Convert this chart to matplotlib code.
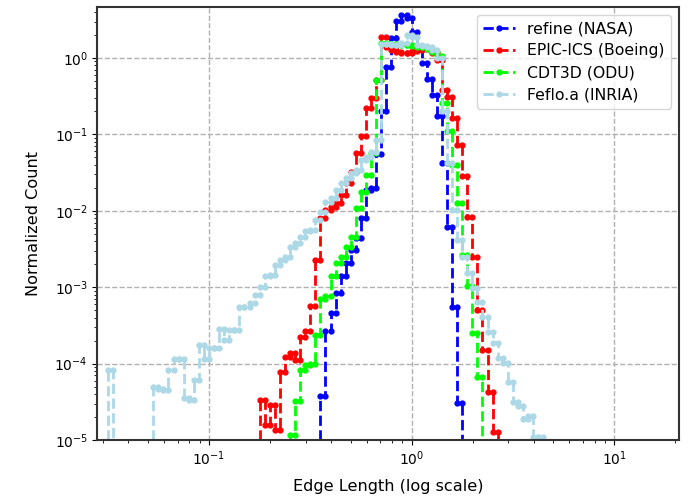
import matplotlib
matplotlib.use("Agg")
import matplotlib.pyplot as plt
import numpy as np

# histogram bins are 1/40 of a decade wide; bin k spans 10**(k/40) .. 10**((k+1)/40)
BINS_PER_DECADE = 40

# log10 of the normalized count per bin, None = empty bin
refine_start = -18
refine_log = [-4.43, -3.58, -3.34, -3.07, -2.86, -2.68, -2.51, -2.36, -2.09, -1.73,
              -1.70, -1.26, -0.70, -0.12, 0.26, 0.49, 0.56, 0.52, 0.34, 0.15,
              -0.06, -0.27, -0.48, -0.76, -1.38, -2.21, -3.26, -4.52]

epic_start = -30
epic_log = [-4.48, -4.81, -4.54, -4.87, -4.11, -3.92, -3.86, -3.95, -3.65, -3.58,
            -3.25, -2.64, -2.09, -1.99, -1.95, -1.90, -1.79, -1.64, -1.49, -1.25,
            -1.02, -0.66, -0.53, -0.29, 0.27, 0.15, 0.10, 0.08, 0.07, 0.06,
            0.09, 0.10, 0.14, 0.12, 0.06, -0.03, -0.42, -0.51, -0.79, -1.14,
            -1.55, -2.08, -2.60, -3.30, -3.82, -4.37, -4.90]

cdt3d_start = -24
cdt3d_log = [-4.93, -4.49, -4.08, -4.02, -4.00, -3.63, -3.16, -3.11, -2.86, -2.68,
             -2.60, -2.47, -2.34, -1.96, -1.75, -1.53, -1.25, -0.29, 0.19, 0.18,
             0.18, 0.17, 0.17, 0.17, 0.16, 0.15, 0.14, 0.12, 0.08, 0.02,
             -0.59, -0.95, -1.40, -1.90, -2.58, -2.99, -3.60, -4.17]

feflo_start = -60
feflo_log = [-4.08, None, None, None, None, None, None, None, None,
             -4.30, -4.33, -4.35, -4.08, -3.94, -3.94, -4.45, -4.48, -4.21, -3.76,
             -3.94, -3.80, -3.80, -3.55, -3.69, -3.56, -3.56, -3.255, -3.255, -3.21,
             -3.10, -3.00, -2.85, -2.84, -2.71, -2.64, -2.60, -2.47, -2.42, -2.34,
             -2.27, -2.25, -2.12, -2.01, -1.88, -1.83, -1.73, -1.64, -1.575, -1.51,
             -1.47, -1.335, -1.29, -1.23, -1.07, 0.18, 0.18, 0.17, 0.17, 0.20,
             0.30, 0.27, 0.17, 0.16, 0.14, 0.10, 0.00, -0.70, -1.38, -1.99,
             -2.38, -2.60, -2.82, -3.01, -3.19, -3.39, -3.59, -3.73, -3.93, -3.99,
             -4.24, -4.50, -4.56, -4.72, -4.69, -4.96, -4.96]

labels = ["refine (NASA)", "EPIC-ICS (Boeing)", "CDT3D (ODU)", "Feflo.a (INRIA)"]
colors = ["blue", "red", "lime", "lightblue"]


def stepPoints(start, logValues):
    # pad with an empty bin on each side so the steps drop to the bottom
    counts = [0.0] + [0.0 if v is None else 10.0 ** v for v in logValues] + [0.0]
    xs, ys = [], []
    for i, c in enumerate(counts):
        k = start - 1 + i
        xs += [10.0 ** (k / BINS_PER_DECADE), 10.0 ** ((k + 1) / BINS_PER_DECADE)]
        ys += [c, c]
    return xs, ys


fig = plt.figure(figsize=(6.94, 4.98), dpi=100)
ax = fig.add_subplot(111)
fig.subplots_adjust(left=0.1398, right=0.9784, bottom=0.1165, top=0.986)

series = [(refine_start, refine_log), (epic_start, epic_log),
          (cdt3d_start, cdt3d_log), (feflo_start, feflo_log)]
for (start, vals), lab, col in zip(series, labels, colors):
    xs, ys = stepPoints(start, vals)
    ax.plot(xs, ys, "--", marker=".", color=col, lw=2, markersize=7, label=lab)

ax.set_xscale("log")
ax.set_yscale("log")
ax.set_xlim(0.028, 20.9)
ax.set_ylim(1e-5, 4.65)
ax.grid(True, which="major", ls="--", color="#b0b0b0", lw=1)
ax.set_xlabel("Edge Length (log scale)", fontsize=11.6, labelpad=8)
ax.set_ylabel("Normalized Count", fontsize=11.6, labelpad=10)
ax.tick_params(labelsize=10, pad=3)
for s in ax.spines.values():
    s.set_linewidth(1.5)
    s.set_color("#333333")
ax.legend(loc="upper right", fontsize=11.3, labelspacing=0.45)

fig.savefig("out.png", dpi=100)
